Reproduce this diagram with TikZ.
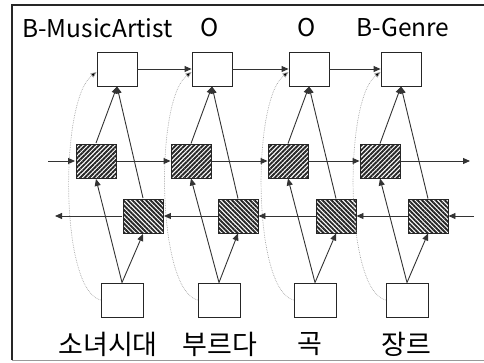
\documentclass[tikz,border=0pt]{standalone}
\usepackage{fontspec}
\setmainfont{Noto Sans CJK KR}
\usetikzlibrary{arrows.meta,patterns.meta}
\begin{document}
\begin{tikzpicture}[x=1pt,y=-1pt,
  cell/.style={draw=black!85,line width=0.9pt,minimum width=40pt,minimum height=34pt,inner sep=0pt,fill=white},
  fwdcell/.style={cell,pattern={Lines[angle=45,distance=3.2pt,line width=1.9pt]},pattern color=black!85},
  bwdcell/.style={cell,pattern={Lines[angle=-45,distance=3.2pt,line width=1.9pt]},pattern color=black!85},
  incell/.style={cell,minimum width=42pt},
  link/.style={draw=black!80,line width=0.9pt,-{Triangle[length=7pt,width=6pt]}},
  skip/.style={draw=black!35,line width=0.7pt,densely dotted,-{Triangle[length=6pt,width=5pt,fill=black]}},
  tag/.style={font=\fontsize{24.5}{28}\selectfont,inner sep=0pt},
  word/.style={font=\fontsize{27}{30}\selectfont,inner sep=0pt}]
\useasboundingbox (0,0) rectangle (484,362);
% frame
\draw[black!85,line width=1.8pt] (484,5) -- (12,5) -- (12,360);
\draw[black!40,line width=1pt] (12,360) -- (484,360);

% output tags
\node[tag,anchor=west] (t1) at (22,28) {B-MusicArtist};
\node[tag] (t2) at (210,28) {O};
\node[tag] (t3) at (307,28) {O};
\node[tag] (t4) at (403,28) {B-Genre};

% output cells
\node[cell] (o1) at (117,69) {};
\node[cell] (o2) at (212,69) {};
\node[cell] (o3) at (309,69) {};
\node[cell] (o4) at (401,69) {};

% forward cells
\node[fwdcell] (f1) at (96,161) {};
\node[fwdcell] (f2) at (191,161) {};
\node[fwdcell] (f3) at (288,161) {};
\node[fwdcell] (f4) at (380,161) {};

% backward cells
\node[bwdcell] (b1) at (143,216) {};
\node[bwdcell] (b2) at (238,216) {};
\node[bwdcell] (b3) at (336,216) {};
\node[bwdcell] (b4) at (428,216) {};

% input cells
\node[incell] (i1) at (122,300) {};
\node[incell] (i2) at (219,300) {};
\node[incell] (i3) at (315,300) {};
\node[incell] (i4) at (407,300) {};

% input words
\node[word] (w1) at (108,344) {소녀시대};
\node[word] (w2) at (220,344) {부르다};
\node[word] (w3) at (310,344) {곡};
\node[word] (w4) at (406,344) {장르};

% free ends of the recurrent chains
\coordinate (fin) at (48,161);
\coordinate (fout) at (470,161);
\coordinate (bin) at (474,216);
\coordinate (bout) at (55,216);

% skip connections from inputs to outputs
\foreach \k in {1,2,3,4}{
  \draw[skip] (i\k.west) .. controls +(-41,-10) and +(-37,28) .. (o\k.north west |- 0,72);
}

% output chain
\draw[link] (o1) -- (o2);
\draw[link] (o2) -- (o3);
\draw[link] (o3) -- (o4);

% forward chain
\draw[link] (fin) -- (f1);
\draw[link] (f1) -- (f2);
\draw[link] (f2) -- (f3);
\draw[link] (f3) -- (f4);
\draw[link] (f4) -- (fout);

% backward chain
\draw[link] (bin) -- (b4);
\draw[link] (b4) -- (b3);
\draw[link] (b3) -- (b2);
\draw[link] (b2) -- (b1);
\draw[link] (b1) -- (bout);

% inputs feed both directions, both directions feed outputs
\foreach \k in {1,2,3,4}{
  \draw[link] (i\k.north) -- (f\k.south);
  \draw[link] (i\k.north) -- (b\k.south);
  \draw[link] (f\k.north) -- (o\k.south);
  \draw[link] (b\k.north) -- (o\k.south);
}
\end{tikzpicture}
\end{document}
